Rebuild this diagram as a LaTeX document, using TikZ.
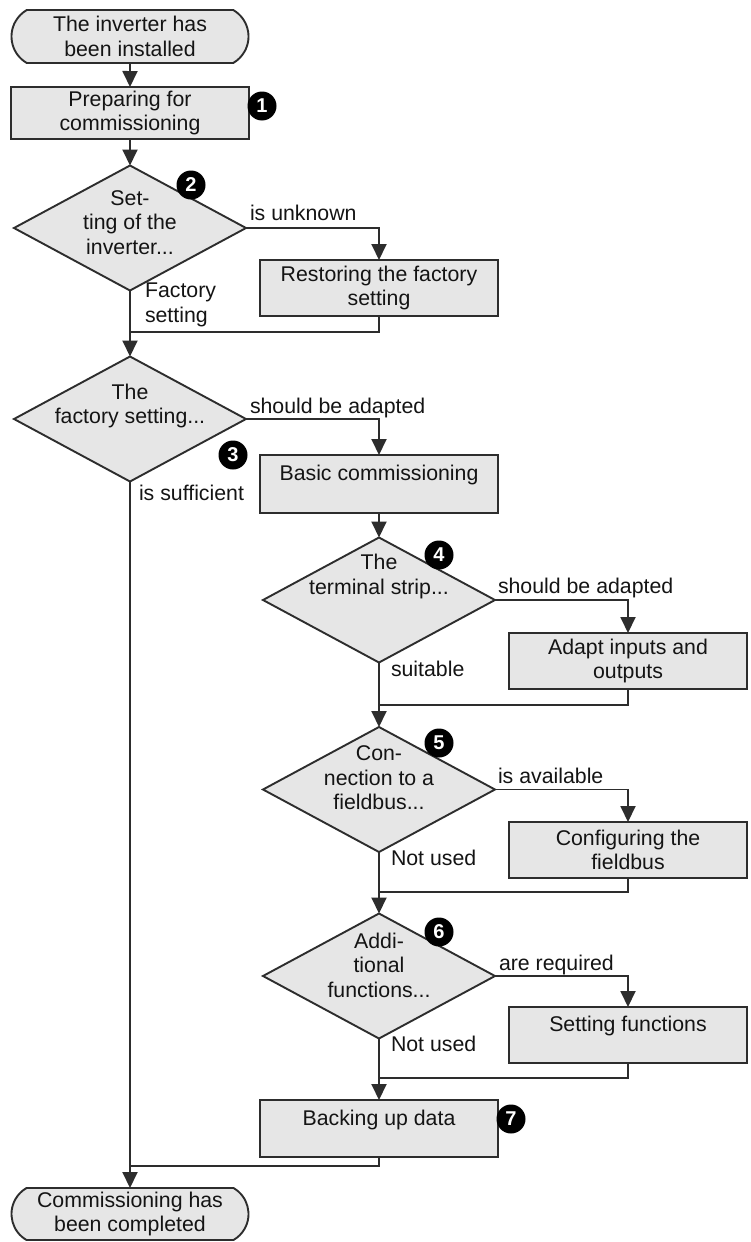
\documentclass[tikz,border=0pt]{standalone}
\usepackage{fontspec}
\setmainfont{Liberation Sans}
\usetikzlibrary{shapes.geometric,shapes.misc,arrows.meta}
\definecolor{linec}{RGB}{45,45,45}
\definecolor{boxfill}{RGB}{230,230,230}
\definecolor{txtc}{RGB}{20,20,20}
\begin{document}
\begin{tikzpicture}[x=1pt,y=-1pt,
  every node/.style={inner sep=0pt, outer sep=0pt},
  fnt/.style={font=\fontsize{21.3}{24.5}\selectfont, text=txtc},
  base/.style={fnt, draw=linec, line width=1.9pt, fill=boxfill, align=center},
  term/.style={base, rounded rectangle, rounded rectangle arc length=120, minimum width=237pt, minimum height=53pt},
  proc/.style={base, rectangle, minimum width=238pt, minimum height=56pt},
  topproc/.style={proc, text depth=22pt},
  dec/.style={base, diamond, minimum width=232pt, minimum height=125pt},
  dtext/.style={fnt, align=center},
  lbl/.style={fnt, anchor=base west, align=left},
  badge/.style={circle, fill=black, text=white, font=\bfseries\fontsize{20}{20}\selectfont, minimum size=29pt},
  arr/.style={draw=linec, line width=1.9pt, -{Triangle[width=15pt,length=16pt]}},
  ln/.style={draw=linec, line width=1.9pt},
]
\path[fill=white] (0,0) rectangle (750,1242);
\useasboundingbox (0,0) rectangle (750,1242);

% left column
\node[term] (start) at (130,36.5) {The inverter has\\been installed};
\node[proc, minimum height=52pt] (p1) at (130,113) {Preparing for\\commissioning};
\node[dec] (d1) at (130,228) {};
\node[dtext] (t1) at (130,222.5) {Set-\\ting of the\\inverter...};
\node[proc] (r1) at (379,288) {Restoring the factory\\setting};
\coordinate (j1) at (130,332);
\node[dec] (d2) at (130,419) {};
\node[dtext] (t2) at (130,406) {The\\factory setting...};
\node[topproc, minimum height=58pt] (b3) at (379,484) {Basic commissioning};

% right column
\node[dec] (d3) at (379,600) {};
\node[dtext] (t3) at (379,576.5) {The\\terminal strip...};
\node[proc] (ad) at (628,661) {Adapt inputs and\\outputs};
\coordinate (j3) at (379,705);
\node[dec] (d4) at (379,789.5) {};
\node[dtext] (t4) at (379,778) {Con-\\nection to a\\fieldbus...};
\node[proc] (cf) at (628,850) {Configuring the\\fieldbus};
\coordinate (j4) at (379,892);
\node[dec] (d5) at (379,976) {};
\node[dtext] (t5) at (379,965) {Addi-\\tional\\functions...};
\node[topproc] (sf) at (628,1035) {Setting functions};
\coordinate (j5) at (379,1078);
\node[topproc, minimum height=57pt] (bk) at (379,1128.5) {Backing up data};
\coordinate (j6) at (130,1166);
\node[term, minimum height=52pt] (end) at (130,1214) {Commissioning has\\been completed};

% badges
\node[badge] (n1) at (262,106) {1};
\node[badge] (n2) at (191,185) {2};
\node[badge] (n3) at (233,455) {3};
\node[badge] (n4) at (439,555) {4};
\node[badge] (n5) at (439,743) {5};
\node[badge] (n6) at (439,932) {6};
\node[badge] (n7) at (511,1119) {7};

% labels
\node[lbl] (l1) at (250,220) {is unknown};
\node[lbl, anchor=west] (l2) at (145,305) {Factory\\setting};
\node[lbl] (l3) at (250,413) {should be adapted};
\node[lbl] (l4) at (139,500) {is sufficient};
\node[lbl] (l5) at (498,593) {should be adapted};
\node[lbl] (l6) at (391,676) {suitable};
\node[lbl] (l7) at (498,783) {is available};
\node[lbl] (l8) at (391,865) {Not used};
\node[lbl] (l9) at (499,970) {are required};
\node[lbl] (l10) at (391,1051) {Not used};

% connectors
\draw[arr] (start) -- (p1);
\draw[arr] (p1) -- (d1.north);
\draw[arr] (d1.east) -| (r1.north);
\draw[ln] (r1.south) |- (j1);
\draw[arr] (d1.south) -- (d2.north);
\draw[arr] (d2.east) -| (b3.north);
\draw[arr] (d2.south) -- (end.north);
\draw[arr] (b3.south) -- (d3.north);
\draw[arr] (d3.east) -| (ad.north);
\draw[ln] (ad.south) |- (j3);
\draw[arr] (d3.south) -- (d4.north);
\draw[arr] (d4.east) -| (cf.north);
\draw[ln] (cf.south) |- (j4);
\draw[arr] (d4.south) -- (d5.north);
\draw[arr] (d5.east) -| (sf.north);
\draw[ln] (sf.south) |- (j5);
\draw[arr] (d5.south) -- (bk.north);
\draw[ln] (bk.south) |- (j6);
\end{tikzpicture}
\end{document}
